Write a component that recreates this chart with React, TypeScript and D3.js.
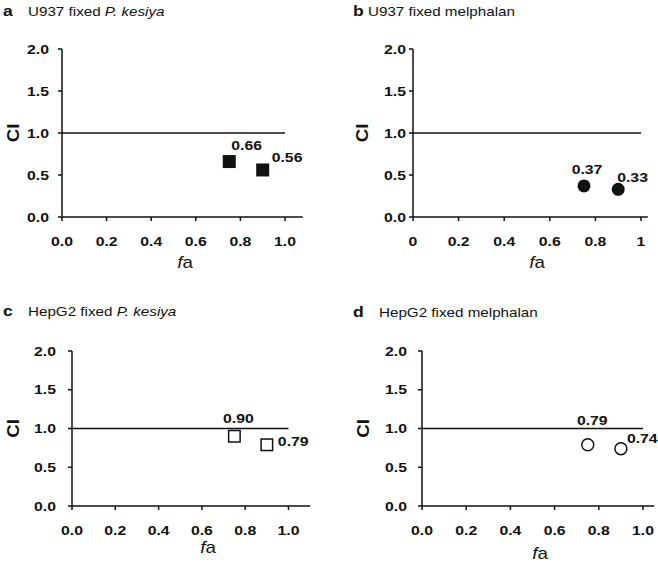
import React from "react";
import * as d3 from "d3";

// ---- data ----
const faValues = [0.75, 0.9];
const ciA = [0.66, 0.56];
const ciB = [0.37, 0.33];
const ciC = [0.9, 0.79];
const ciD = [0.79, 0.74];
const ciLabelsA = ["0.66", "0.56"];
const ciLabelsB = ["0.37", "0.33"];
const ciLabelsC = ["0.90", "0.79"];
const ciLabelsD = ["0.79", "0.74"];
const yTicks = [0, 0.5, 1, 1.5, 2];
const yTickLabels = ["0.0", "0.5", "1.0", "1.5", "2.0"];
const xTicks = [0, 0.2, 0.4, 0.6, 0.8, 1.0];
const xTickLabels = ["0.0", "0.2", "0.4", "0.6", "0.8", "1.0"];
const xTickLabelsShort = ["0", "0.2", "0.4", "0.6", "0.8", "1"];
const panelLetters = ["a", "b", "c", "d"];
const cellLines = ["U937", "U937", "HepG2", "HepG2"];
const fixedAgents = ["P. kesiya", "melphalan", "P. kesiya", "melphalan"];
const italicAgent = [true, false, true, false];
const referenceCI = 1.0;

const FONT = "'Liberation Sans', Arial, Helvetica, sans-serif";
const SX = 1.17; // horizontal text stretch of the original figure
const INK = "#111";

type LabelPos = { dx: number; dy: number; anchor: "start" | "middle" | "end" };

type PanelCfg = {
  x0: number; x1: number; y0: number; y2: number; xMax: number;
  ci: number[]; ciLabels: string[]; xLabels: string[];
  marker: "fsquare" | "fcircle" | "osquare" | "ocircle";
  idx: number;
  letterX: number; titleX: number; titleY: number;
  ciX: number; faX: number; faY: number; yGap: number;
  labelPos: LabelPos[];
};

function T({ x, y, anchor = "start", size = 13, weight = "bold", children }: any) {
  return (
    <text
      transform={`translate(${x},${y}) scale(${SX},1)`}
      textAnchor={anchor}
      fontSize={size}
      fontWeight={weight}
      fontFamily={FONT}
      fill={INK}
    >
      {children}
    </text>
  );
}

function Panel(c: PanelCfg) {
  const x = d3.scaleLinear().domain([0, 1]).range([c.x0, c.x1]);
  const y = d3.scaleLinear().domain([0, 2]).range([c.y0, c.y2]);
  const sw = 1.5;
  return (
    <g>
      {/* title */}
      <T x={c.letterX} y={c.titleY} size={15} weight="bold">{panelLetters[c.idx]}</T>
      <T x={c.titleX} y={c.titleY} size={13} weight="normal">
        {cellLines[c.idx]} fixed{" "}
        <tspan fontStyle={italicAgent[c.idx] ? "italic" : "normal"}>{fixedAgents[c.idx]}</tspan>
      </T>
      {/* y axis */}
      <line x1={x(0)} x2={x(0)} y1={y(0)} y2={y(2)} stroke={INK} strokeWidth={sw} />
      {yTicks.map((t, i) => (
        <g key={"y" + i}>
          <line x1={x(0) - 4} x2={x(0)} y1={y(t)} y2={y(t)} stroke={INK} strokeWidth={sw} />
          <T x={x(0) - c.yGap} y={y(t) + 4.7} anchor="end" size={13.5}>{yTickLabels[i]}</T>
        </g>
      ))}
      {/* x axis */}
      <line x1={x(0)} x2={x(c.xMax)} y1={y(0)} y2={y(0)} stroke={INK} strokeWidth={sw} />
      {xTicks.map((t, i) => (
        <g key={"x" + i}>
          <line x1={x(t)} x2={x(t)} y1={y(0)} y2={y(0) + 4} stroke={INK} strokeWidth={sw} />
          <T x={x(t)} y={y(0) + 28.5} anchor="middle" size={13.5}>{c.xLabels[i]}</T>
        </g>
      ))}
      {/* reference line */}
      <line x1={x(0)} x2={x(1)} y1={y(referenceCI)} y2={y(referenceCI)} stroke={INK} strokeWidth={sw} />
      {/* axis titles */}
      <text
        transform={`translate(${c.ciX},${y(1)}) rotate(-90) scale(${SX},1)`}
        textAnchor="middle"
        fontSize={16}
        fontWeight="bold"
        fontFamily={FONT}
        fill={INK}
        dy="0.36em"
      >
        CI
      </text>
      <T x={c.faX} y={c.faY} anchor="middle" size={16} weight="normal">
        <tspan fontStyle="italic">f</tspan>a
      </T>
      {/* points */}
      {faValues.map((f, i) => {
        const px = x(f);
        const py = y(c.ci[i]);
        let m;
        if (c.marker === "fsquare") m = <rect x={px - 6.5} y={py - 6.5} width={13} height={13} fill={INK} />;
        else if (c.marker === "osquare") m = <rect x={px - 5.75} y={py - 5.75} width={11.5} height={11.5} fill="#fff" stroke={INK} strokeWidth={1.5} />;
        else if (c.marker === "fcircle") m = <circle cx={px} cy={py} r={6.5} fill={INK} />;
        else m = <circle cx={px} cy={py} r={6} fill="#fff" stroke={INK} strokeWidth={1.5} />;
        const lp = c.labelPos[i];
        return (
          <g key={"p" + i}>
            {m}
            <T x={px + lp.dx} y={py + lp.dy} anchor={lp.anchor} size={13.5}>{c.ciLabels[i]}</T>
          </g>
        );
      })}
    </g>
  );
}

export default function App() {
  const panels: PanelCfg[] = [
    {
      idx: 0, x0: 62, x1: 285, y0: 217, y2: 49, xMax: 1.08,
      ci: ciA, ciLabels: ciLabelsA, xLabels: xTickLabels, marker: "fsquare",
      letterX: 3, titleX: 28, titleY: 16, ciX: 13, faX: 185, faY: 268, yGap: 13,
      labelPos: [
        { dx: 2, dy: -11.5, anchor: "start" },
        { dx: 9, dy: -8, anchor: "start" },
      ],
    },
    {
      idx: 1, x0: 413, x1: 641, y0: 217, y2: 49, xMax: 1.03,
      ci: ciB, ciLabels: ciLabelsB, xLabels: xTickLabelsShort, marker: "fcircle",
      letterX: 353, titleX: 368, titleY: 16, ciX: 362, faX: 537, faY: 268, yGap: 7,
      labelPos: [
        { dx: 3, dy: -11.5, anchor: "middle" },
        { dx: -1, dy: -7, anchor: "start" },
      ],
    },
    {
      idx: 2, x0: 72, x1: 288.5, y0: 506, y2: 351, xMax: 1.1,
      ci: ciC, ciLabels: ciLabelsC, xLabels: xTickLabels, marker: "osquare",
      letterX: 3, titleX: 28, titleY: 316, ciX: 13, faX: 208, faY: 553, yGap: 16,
      labelPos: [
        { dx: 4, dy: -13, anchor: "middle" },
        { dx: 11, dy: 1, anchor: "start" },
      ],
    },
    {
      idx: 3, x0: 422, x1: 643, y0: 506, y2: 351, xMax: 1.05,
      ci: ciD, ciLabels: ciLabelsD, xLabels: xTickLabels, marker: "ocircle",
      letterX: 353, titleX: 379, titleY: 317, ciX: 363, faX: 540, faY: 559, yGap: 15,
      labelPos: [
        { dx: 4.5, dy: -19.5, anchor: "middle" },
        { dx: 6, dy: -5.5, anchor: "start" },
      ],
    },
  ];
  return (
    <svg
      width={658}
      height={562}
      viewBox="0 0 658 562"
      style={{ position: "absolute", left: 0, top: 0, background: "#fff" }}
    >
      <rect width={658} height={562} fill="#fff" />
      {panels.map((p) => (
        <Panel key={p.idx} {...p} />
      ))}
    </svg>
  );
}
